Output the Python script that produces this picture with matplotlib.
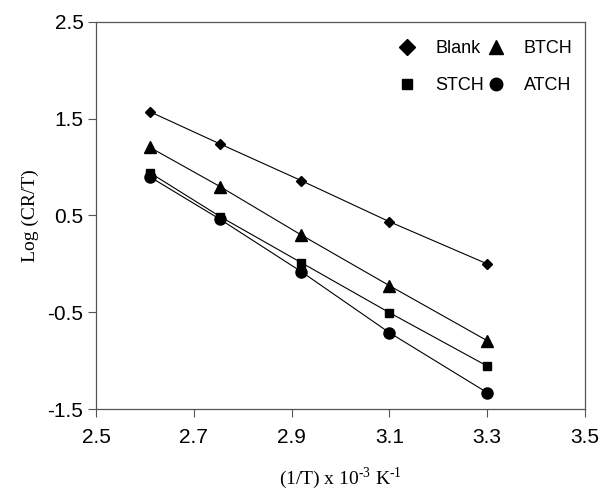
import matplotlib
matplotlib.use('Agg')
import matplotlib.pyplot as plt
from matplotlib.lines import Line2D

plt.rcParams['mathtext.fontset'] = 'custom'
plt.rcParams['mathtext.rm'] = 'Liberation Serif'

inv_t = [2.61, 2.754, 2.92, 3.10, 3.30]
blank = [1.573, 1.239, 0.86, 0.436, 0.0]
btch = [1.205, 0.798, 0.298, -0.225, -0.794]
stch = [0.943, 0.488, 0.012, -0.504, -1.056]
atch = [0.90, 0.46, -0.081, -0.711, -1.331]

fig = plt.figure(figsize=(6.01, 4.91), dpi=100)
ax = fig.add_axes([0.1597, 0.167, 0.8137, 0.7882])

ax.plot(inv_t, blank, 'k-', marker='D', ms=5.5, lw=0.8)
ax.plot(inv_t, btch, 'k-', marker='^', ms=8, lw=0.8)
ax.plot(inv_t, stch, 'k-', marker='s', ms=6, lw=0.8)
ax.plot(inv_t, atch, 'k-', marker='o', ms=8, lw=0.8)

ax.set_xlim(2.5, 3.5)
ax.set_ylim(-1.5, 2.5)
ax.set_xticks([2.5, 2.7, 2.9, 3.1, 3.3, 3.5])
ax.set_yticks([-1.5, -0.5, 0.5, 1.5, 2.5])
ax.set_xticklabels(['2.5', '2.7', '2.9', '3.1', '3.3', '3.5'])
ax.set_yticklabels(['-1.5', '-0.5', '0.5', '1.5', '2.5'])
ax.tick_params(direction='out', length=5.5, width=0.8, color='#555555', labelsize=15)
ax.tick_params(axis='x', pad=8.5)
ax.tick_params(axis='y', pad=3.5)
for lab in ax.get_xticklabels() + ax.get_yticklabels():
    lab.set_family('Liberation Sans')
for s in ax.spines.values():
    s.set_color('#555555')
    s.set_linewidth(0.9)

ax.set_xlabel(r'(1/T) x 10$^{\text{-3}}$ K$^{\text{-1}}$', family='Liberation Serif',
              fontsize=14, labelpad=13)
ax.set_ylabel('Log (CR/T)', family='Liberation Serif', fontsize=14, labelpad=6)

handles = [Line2D([], [], ls='none', color='k', marker='D', ms=8.5),
           Line2D([], [], ls='none', color='k', marker='s', ms=7),
           Line2D([], [], ls='none', color='k', marker='^', ms=10),
           Line2D([], [], ls='none', color='k', marker='o', ms=9)]
ax.legend(handles, ['Blank', 'STCH', 'BTCH', 'ATCH'], ncol=2, frameon=False,
          loc='upper right', bbox_to_anchor=(1.008, 0.995),
          prop={'family': 'Liberation Sans', 'size': 13},
          handlelength=1.0, handletextpad=1.05, columnspacing=0.15, labelspacing=1.1)

fig.savefig('out.png', dpi=100)
